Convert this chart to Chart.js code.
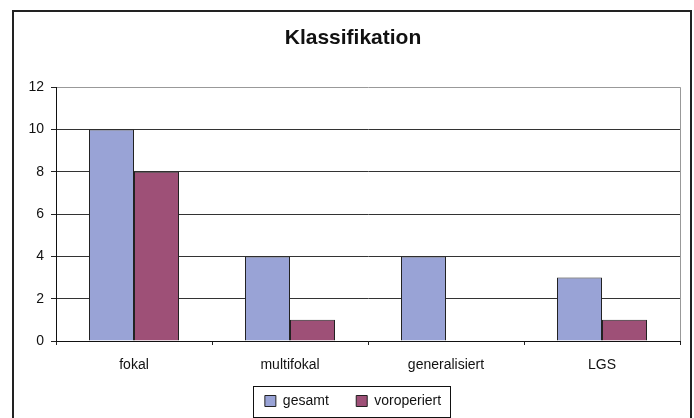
<!DOCTYPE html>
<html>
<head>
<meta charset="utf-8">
<script src="https://cdn.jsdelivr.net/npm/chart.js@4/dist/chart.umd.min.js"></script>
<style>
    html, body { margin: 0; padding: 0; background: #fff; }
    #wrap { width: 694px; height: 418px; }
</style>
</head>
<body>
<div id="wrap"><canvas id="myChart"></canvas></div>
<script>
var categories = ['fokal', 'multifokal', 'generalisiert', 'LGS'];
var gesamt = [10, 4, 4, 3];
var voroperiert = [8, 1, 0, 1];
var yTicks = [0, 2, 4, 6, 8, 10, 12];

var fontFamily = '"Liberation Sans", Arial, sans-serif';

// outer frame, right edge of the plot and the box round the legend
var framePlugin = {
    id: 'frame',
    afterDraw: function(chart) {
        var ctx = chart.ctx;
        var area = chart.chartArea;
        ctx.save();

        ctx.strokeStyle = '#222';
        ctx.lineWidth = 2;
        ctx.strokeRect(13, 11, 678, 420);

        ctx.strokeStyle = '#999';
        ctx.lineWidth = 1;
        ctx.beginPath();
        ctx.moveTo(Math.round(area.right) + 0.5, area.top);
        ctx.lineTo(Math.round(area.right) + 0.5, area.bottom);
        ctx.stroke();

        var boxes = chart.legend.legendHitBoxes;
        if (boxes && boxes.length) {
            var first = boxes[0];
            var last = boxes[boxes.length - 1];
            var left = Math.round(first.left - 12) + 0.5;
            var right = Math.round(last.left + last.width + 9) + 0.5;
            ctx.strokeStyle = '#111';
            ctx.strokeRect(left, 386.5, right - left, 31);
        }
        ctx.restore();
    }
};

var ctx = document.getElementById('myChart').getContext('2d');

var myChart = new Chart(ctx, {
    type: 'bar',
    data: {
        labels: categories,
        datasets: [{
            label: 'gesamt',
            data: gesamt,
            backgroundColor: '#99a3d6',
            borderColor: '#222',
            borderWidth: 1
        }, {
            label: 'voroperiert',
            data: voroperiert,
            backgroundColor: '#9e5077',
            borderColor: '#222',
            borderWidth: 1
        }]
    },
    options: {
        responsive: true,
        maintainAspectRatio: false,
        animation: false,
        layout: {
            padding: { left: 26, right: 14, top: 0, bottom: 0 }
        },
        datasets: {
            bar: {
                categoryPercentage: 0.577,
                barPercentage: 1
            }
        },
        plugins: {
            title: {
                display: true,
                text: 'Klassifikation',
                color: '#111',
                font: { family: fontFamily, size: 21, weight: 'bold' },
                padding: { top: 26, bottom: 36 }
            },
            legend: {
                position: 'bottom',
                labels: {
                    color: '#111',
                    font: { family: fontFamily, size: 14 },
                    boxWidth: 11,
                    boxHeight: 11,
                    padding: 8,
                    // extra room after each entry but the last
                    generateLabels: function(chart) {
                        var items = Chart.defaults.plugins.legend.labels.generateLabels(chart);
                        for (var i = 0; i < items.length - 1; i++) {
                            items[i].text = items[i].text + '     ';
                        }
                        return items;
                    }
                }
            },
            tooltip: { enabled: false }
        },
        scales: {
            x: {
                afterFit: function(scale) { scale.height = 45; },
                grid: {
                    offset: true,
                    drawOnChartArea: false,
                    tickLength: 4,
                    color: '#222'
                },
                border: { color: '#111', width: 1 },
                ticks: {
                    color: '#111',
                    padding: 12,
                    font: { family: fontFamily, size: 14 }
                }
            },
            y: {
                min: 0,
                max: 12,
                afterFit: function(scale) { scale.width = 30; },
                afterBuildTicks: function(scale) {
                    scale.ticks = yTicks.map(function(v) { return { value: v }; });
                },
                grid: {
                    color: function(c) {
                        return c.tick && c.tick.value === 12 ? '#999' : '#333';
                    },
                    tickColor: '#222',
                    tickLength: 5
                },
                border: { color: '#111', width: 1 },
                ticks: {
                    color: '#111',
                    padding: 7,
                    font: { family: fontFamily, size: 14 }
                }
            }
        }
    },
    plugins: [framePlugin]
});
</script>
</body>
</html>
